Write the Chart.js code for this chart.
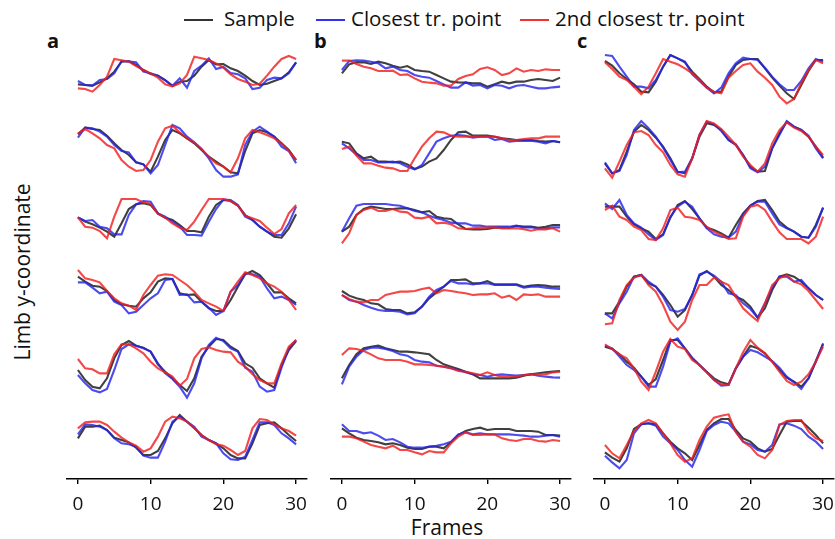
<!DOCTYPE html>
<html>
<head>
<meta charset="utf-8">
<script src="https://cdn.jsdelivr.net/npm/chart.js@4/dist/chart.umd.min.js"></script>
<style>
  body { margin: 0; width: 835px; height: 539px; background: #fff; position: relative; overflow: hidden;
         font-family: "Open Sans", "Noto Sans", sans-serif; color: #111; }
  canvas { position: absolute; }
  .txt { position: absolute; font-size: 20.5px; line-height: 20px; white-space: nowrap; }
  .key { position: absolute; height: 2px; width: 29px; }
  .letter { position: absolute; font-size: 20px; font-weight: bold; line-height: 20px; }
</style>
</head>
<body>
<div class="key" style="left:184px; top:19px; background:#333;"></div>
<div class="txt" style="left:224px; top:8px;">Sample</div>
<div class="key" style="left:316px; top:19px; background:#3333ee;"></div>
<div class="txt" style="left:351px; top:8px;">Closest tr. point</div>
<div class="key" style="left:520px; top:19px; background:#f23333;"></div>
<div class="txt" style="left:555px; top:8px;">2nd closest tr. point</div>

<div class="letter" style="left:47px; top:31px;">a</div>
<div class="letter" style="left:314px; top:31px;">b</div>
<div class="letter" style="left:577px; top:31px;">c</div>

<div class="txt" style="left:22px; top:272px; font-size:21px; transform: translate(-50%,-50%) rotate(-90deg);">Limb y-coordinate</div>
<div class="txt" style="left:447px; top:527px; font-size:21px; transform: translate(-50%,-50%);">Frames</div>

<canvas id="panelA" width="260" height="509" style="left:57px; top:30px;"></canvas>
<canvas id="panelB" width="260" height="509" style="left:321px; top:30px;"></canvas>
<canvas id="panelC" width="260" height="509" style="left:584px; top:30px;"></canvas>

<script>
// frames on the x axis
const frames = [0,1,2,3,4,5,6,7,8,9,10,11,12,13,14,15,16,17,18,19,20,21,22,23,24,25,26,27,28,29,30];
const xTicks = [0, 10, 20, 30];

// limb y-coordinate (image units, grows downward), one trace per row, rows top to bottom
const aSample = [
  [118,120,122,112,100,80,50,48,60,75,87,92,105,123,110,108,92,65,45,58,57,70,78,92,108,120,116,108,100,82,52],
  [49,29,33,36,53,76,96,111,133,139,161,116,66,36,46,61,76,96,116,131,146,163,166,99,46,36,43,56,76,96,126],
  [79,92,100,110,122,137,97,54,40,37,42,67,80,87,102,120,120,124,77,42,27,30,44,72,87,107,122,137,140,112,70],
  [38,53,65,68,81,108,121,125,128,103,85,53,43,45,88,93,91,113,133,141,141,108,68,31,21,33,58,85,85,103,118],
  [99,129,149,154,124,64,24,12,26,32,44,82,104,124,144,162,124,59,29,6,9,29,42,79,92,124,139,152,84,39,12],
  [85,50,50,47,60,83,90,97,113,135,135,123,85,40,15,35,55,75,90,100,115,135,145,145,100,45,40,37,55,75,93]
];
const aClosest = [
  [108,120,122,105,102,85,48,50,52,80,85,92,106,122,100,128,78,62,40,72,66,84,88,100,132,128,105,98,100,85,52],
  [59,29,31,41,56,81,99,103,133,139,166,141,81,21,31,56,73,93,121,156,176,176,169,81,41,26,41,56,86,99,136],
  [79,90,87,107,112,130,130,72,40,30,32,67,77,92,107,132,132,134,92,54,26,27,42,77,87,107,122,132,132,97,47],
  [55,55,71,88,83,113,123,148,143,123,103,88,48,45,93,91,115,113,131,153,141,83,63,28,31,38,73,103,98,108,123],
  [114,139,159,166,156,99,36,22,26,34,44,79,109,126,149,182,139,64,24,2,12,34,44,92,104,149,164,159,92,34,9],
  [73,43,45,50,60,85,100,103,110,137,143,143,95,35,20,35,50,80,90,100,130,148,150,140,90,37,37,45,70,85,103]
];
const aSecond = [
  [130,132,140,120,95,42,46,50,63,75,85,98,118,124,115,90,35,40,45,55,68,88,102,110,120,116,92,65,42,33,42],
  [46,33,46,61,81,91,126,146,159,156,126,71,31,23,43,61,74,93,116,136,146,163,121,61,36,43,51,61,76,99,126],
  [79,107,110,120,142,77,24,24,24,34,39,69,80,97,110,117,92,57,24,24,24,30,44,74,82,90,110,129,114,67,42],
  [18,43,48,55,81,103,118,125,138,93,63,35,31,33,48,63,83,108,118,128,141,83,53,25,33,43,58,68,83,108,138],
  [66,94,97,109,109,52,22,22,34,49,74,94,106,119,146,126,64,36,31,39,44,46,74,89,112,129,139,139,79,29,9],
  [55,37,35,35,45,65,83,97,107,125,115,80,35,20,25,35,53,75,90,103,107,120,135,123,55,27,30,43,55,63,77]
];

const bSample = [
  [85,58,52,52,57,50,55,62,68,63,75,78,80,90,100,110,112,113,115,115,125,118,110,115,110,110,105,102,105,108,98],
  [71,76,106,121,116,131,131,133,131,139,153,146,131,121,96,66,43,41,53,53,53,56,61,63,66,66,66,69,71,69,73],
  [122,107,72,54,47,50,54,54,52,52,57,64,60,77,82,84,100,114,115,115,114,110,110,110,105,107,107,110,107,102,102],
  [81,95,103,108,118,121,135,138,138,148,145,128,103,85,68,48,48,46,58,58,51,61,61,61,61,68,65,63,65,68,68],
  [124,84,52,34,29,26,34,39,44,44,46,49,52,69,82,89,96,104,112,124,124,124,124,124,122,116,112,109,106,104,102],
  [55,70,83,90,93,97,103,100,105,113,117,117,110,110,115,97,75,63,57,53,60,57,57,57,63,63,63,65,75,75,77]
];
const bClosest = [
  [75,48,46,47,50,55,70,65,75,78,90,95,98,108,118,128,128,112,122,120,130,120,122,130,122,120,125,130,130,127,125],
  [76,91,109,126,126,133,133,131,136,146,154,141,106,71,61,53,51,53,59,56,56,66,63,71,69,69,68,71,76,69,73],
  [122,82,44,39,39,39,39,42,44,52,60,64,74,82,87,95,97,97,104,104,107,107,107,107,104,109,109,112,112,109,109],
  [93,108,113,123,131,138,141,141,143,151,148,128,98,78,68,51,58,58,61,58,58,63,63,63,63,71,68,68,71,73,75],
  [142,89,59,39,32,32,36,42,52,56,69,74,76,86,89,94,99,106,112,114,119,114,112,114,116,114,112,116,119,121,122],
  [43,63,63,70,67,77,90,87,97,110,113,113,110,107,103,95,73,67,73,70,73,73,73,73,75,77,80,80,77,75,80]
];
const bSecond = [
  [47,47,57,65,70,78,78,77,90,88,100,110,113,115,122,122,102,93,88,72,67,75,90,85,70,80,75,78,73,75,75],
  [93,86,113,136,136,143,149,151,159,159,121,86,61,41,43,53,56,56,56,56,56,56,61,66,66,63,61,61,56,56,56],
  [157,127,72,57,50,60,60,54,62,64,80,82,77,97,95,100,112,114,112,110,110,109,112,112,112,115,119,115,115,112,122],
  [93,105,113,115,108,108,93,88,83,83,81,75,71,88,78,81,85,88,93,91,91,88,101,95,108,91,93,91,98,98,98],
  [54,34,36,42,52,64,69,69,69,74,82,82,84,86,89,94,102,104,109,114,106,114,119,119,119,114,112,112,112,106,104],
  [80,80,85,95,105,110,115,107,120,120,127,133,123,127,127,100,80,67,75,75,73,73,85,90,93,87,87,93,95,90,93]
];

const cSample = [
  [48,62,85,102,118,140,142,110,65,30,40,52,80,102,125,142,140,95,60,45,42,42,70,98,122,145,162,120,78,45,45],
  [136,166,156,101,41,21,36,59,86,121,161,166,121,56,16,21,36,66,81,111,146,161,159,91,46,11,26,36,56,86,119],
  [47,47,47,77,100,112,122,144,130,80,42,30,54,82,110,117,127,140,102,67,44,30,27,57,92,110,122,137,140,102,50],
  [148,148,113,68,38,33,58,68,93,123,158,138,93,35,21,38,63,78,98,108,128,161,133,78,38,31,38,53,73,93,108],
  [29,36,52,74,92,119,144,126,69,9,9,34,64,84,104,124,136,142,94,59,26,34,49,74,99,122,134,149,124,74,19],
  [127,143,155,115,57,43,40,43,70,95,115,130,150,105,60,40,27,27,60,85,95,115,125,117,75,35,33,33,53,75,100]
];
const cClosest = [
  [30,33,65,95,125,125,130,105,65,30,40,50,88,108,128,145,128,85,55,38,42,45,68,95,118,135,135,108,70,42,50],
  [133,166,159,111,36,9,31,56,89,126,163,161,121,51,11,19,39,66,79,111,151,163,146,91,51,9,26,36,53,91,121],
  [37,54,27,72,97,110,130,147,132,77,47,32,47,82,112,130,137,140,122,72,44,32,32,67,100,112,122,137,140,107,50],
  [148,163,118,83,38,33,53,68,98,138,143,135,93,31,23,35,53,88,93,118,135,161,118,71,38,38,53,48,73,93,108],
  [26,34,59,84,99,119,149,149,89,14,4,34,62,84,106,129,146,144,94,59,39,46,59,72,92,119,136,156,124,72,22],
  [137,157,175,150,70,43,40,47,80,100,120,150,170,120,63,45,35,40,65,95,103,120,125,105,43,40,47,57,80,95,117]
];
const cSecond = [
  [52,72,95,105,125,148,125,85,42,50,58,70,85,105,128,140,145,98,78,60,55,80,98,120,155,175,162,115,75,45,55],
  [151,179,131,81,43,39,51,81,103,141,169,176,121,51,9,16,33,56,81,116,141,161,136,76,36,13,29,39,56,86,111],
  [57,44,77,87,107,117,144,147,112,57,50,77,80,87,107,122,132,144,142,77,47,42,57,92,124,144,144,144,157,137,77],
  [181,178,108,63,41,33,63,83,123,173,198,173,108,63,63,41,53,63,98,133,153,171,118,63,43,33,53,61,81,108,135],
  [22,36,52,64,94,134,159,104,44,6,29,36,69,84,106,129,142,144,94,46,9,32,49,74,104,132,144,134,112,74,29],
  [105,130,145,105,63,40,30,40,70,100,135,155,145,90,50,23,17,13,67,95,110,135,145,120,45,33,30,30,65,85,93]
];

// traces are stacked: each row shifted down by a fixed gap
const ROW_GAP = 219;
const BASE = 135;

const colors = {
  sample: "rgba(30,30,30,0.85)",
  closest: "rgba(35,35,235,0.82)",
  second: "rgba(242,30,30,0.82)"
};

function rowsToDatasets(rows, color) {
  return rows.map((vals, k) => ({
    data: vals.map((v, i) => ({ x: frames[i], y: v + k * ROW_GAP + BASE })),
    borderColor: color,
    borderWidth: 2.1,
    pointRadius: 0,
    tension: 0,
    fill: false
  }));
}

function makePanel(id, sample, closest, second) {
  // first dataset is drawn last, so the 2nd closest ends up on top
  const datasets = [
    ...rowsToDatasets(second, colors.second),
    ...rowsToDatasets(closest, colors.closest),
    ...rowsToDatasets(sample, colors.sample)
  ];
  new Chart(document.getElementById(id), {
    type: "line",
    data: { datasets },
    options: {
      responsive: false,
      animation: false,
      layout: { padding: { left: 10, right: 10, top: 0, bottom: 0 } },
      plugins: { legend: { display: false }, tooltip: { enabled: false } },
      scales: {
        x: {
          type: "linear",
          min: -1.5,
          max: 31.5,
          afterBuildTicks: (scale) => { scale.ticks = xTicks.map(v => ({ value: v })); },
          afterFit: (scale) => { scale.height = 60; },
          border: { display: true, color: "#000", width: 1.6 },
          grid: { display: true, drawOnChartArea: false, drawTicks: true, tickLength: 5, color: "#000", lineWidth: 1.4 },
          ticks: { color: "#111", padding: 9, maxRotation: 0, font: { family: "'Open Sans', 'Noto Sans', sans-serif", size: 19 } }
        },
        y: {
          display: false,
          reverse: true,
          min: 90,
          max: 1437
        }
      }
    }
  });
}

makePanel("panelA", aSample, aClosest, aSecond);
makePanel("panelB", bSample, bClosest, bSecond);
makePanel("panelC", cSample, cClosest, cSecond);
</script>
</body>
</html>
